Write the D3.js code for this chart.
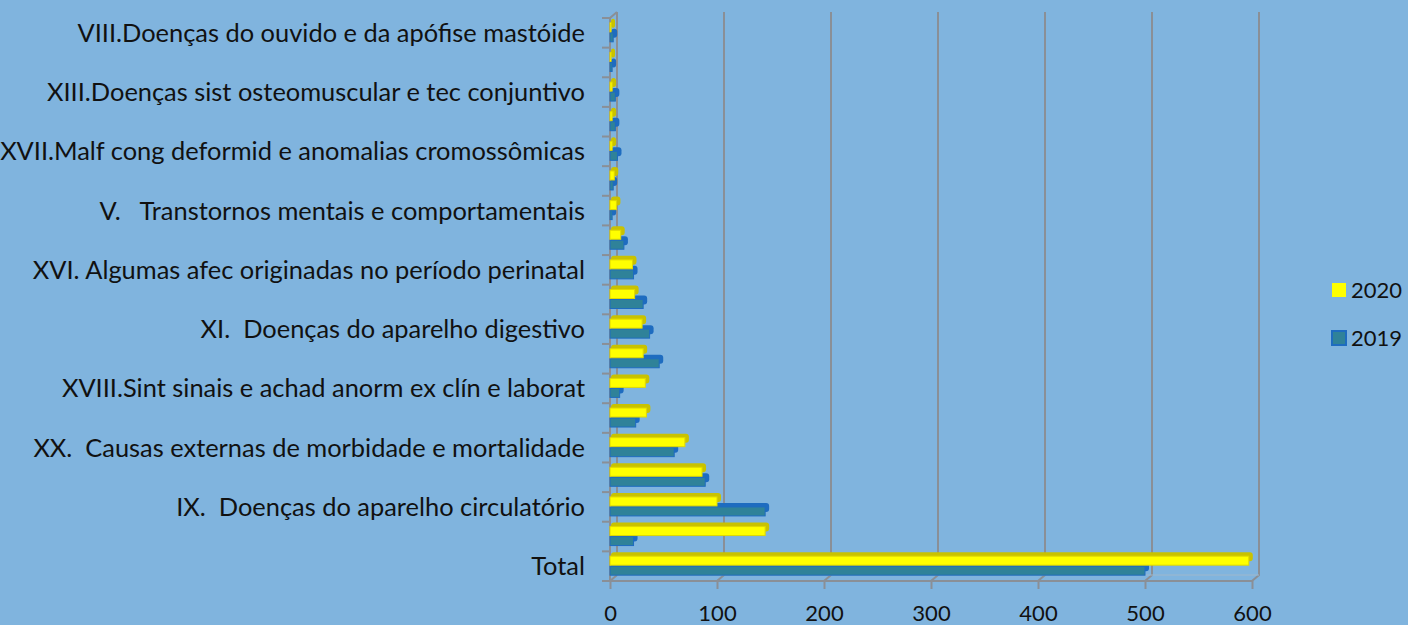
<!DOCTYPE html>
<html>
<head>
<meta charset="utf-8">
<script src="https://cdn.jsdelivr.net/npm/d3@7"></script>
<style>
  html, body { margin: 0; padding: 0; background: #80b4de; }
  text { font-family: Lato, "Open Sans", sans-serif; fill: #111; white-space: pre; }
</style>
</head>
<body>
<div id="chart"></div>
<script>
// categories bottom -> top (empty labels are not shown on the axis)
const categories = [
  "Total",
  "I. Algumas doenças infecciosas e parasitárias",
  "IX.  Doenças do aparelho circulatório",
  "II. Neoplasias (tumores)",
  "XX.  Causas externas de morbidade e mortalidade",
  "X. Doenças do aparelho respiratório",
  "XVIII.Sint sinais e achad anorm ex clín e laborat",
  "IV. Doenças endócrinas nutricionais e metabólicas",
  "XI.  Doenças do aparelho digestivo",
  "XIV. Doenças do aparelho geniturinário",
  "XVI. Algumas afec originadas no período perinatal",
  "VI. Doenças do sistema nervoso",
  "V.   Transtornos mentais e comportamentais",
  "III. Doenças sangue órgãos hemat e transt imunitár",
  "XVII.Malf cong deformid e anomalias cromossômicas",
  "XII. Doenças da pele e do tecido subcutâneo",
  "XIII.Doenças sist osteomuscular e tec conjuntivo",
  "XV. Gravidez parto e puerpério",
  "VIII.Doenças do ouvido e da apófise mastóide"
];
const values2020 = [597, 145, 100, 86, 70, 34, 33, 31, 30, 23, 21, 10, 6, 4, 2, 2, 2, 1, 1];
const values2019 = [500, 22, 145, 89, 60, 24, 9, 46, 37, 31, 22, 13, 2, 3, 7, 5, 5, 2, 3];
const xTicks = [0, 100, 200, 300, 400, 500, 600];
const seriesNames = ["2020", "2019"];

const W = 1408, H = 625;
const depth = {dx: 7, dy: -6};
const plot = {left: 610, right: 1252, top: 18, bottom: 581};

const svg = d3.select("#chart").append("svg")
  .attr("width", W).attr("height", H);

const x = d3.scaleLinear().domain([0, 600]).range([plot.left, plot.right]);
const y = d3.scaleBand().domain(categories).range([plot.bottom, plot.top]);

const gridColor = "#8a8f96";

// back wall gridlines + floor connection
const grid = svg.append("g");
xTicks.forEach(t => {
  const bx = x(t) + depth.dx;
  grid.append("path")
    .attr("d", `M${bx},${plot.top + depth.dy}V${plot.bottom + depth.dy}L${x(t)},${plot.bottom}`)
    .attr("fill", "none").attr("stroke", gridColor).attr("stroke-width", 2);
});
// back floor line (faint)
grid.append("line")
  .attr("x1", x(0) + depth.dx).attr("x2", x(600) + depth.dx)
  .attr("y1", plot.bottom + depth.dy).attr("y2", plot.bottom + depth.dy)
  .attr("stroke", "#9fb8cc").attr("stroke-width", 1);
// front floor line
grid.append("line")
  .attr("x1", x(0)).attr("x2", x(600))
  .attr("y1", plot.bottom).attr("y2", plot.bottom)
  .attr("stroke", gridColor).attr("stroke-width", 2);
// left wall front edge
grid.append("path")
  .attr("d", `M${x(0)},${plot.bottom}V${plot.top}L${x(0) + depth.dx},${plot.top + depth.dy}`)
  .attr("fill", "none").attr("stroke", gridColor).attr("stroke-width", 2);

// category boundary ticks
d3.range(categories.length + 1).forEach(i => {
  const yy = plot.bottom - i * y.step();
  grid.append("line")
    .attr("x1", x(0) - 8).attr("x2", x(0))
    .attr("y1", yy).attr("y2", yy)
    .attr("stroke", gridColor).attr("stroke-width", 2);
});

// bars
const barH = 9, d = 4;
const series = [
  {name: "2019", values: values2019, off: 0, front: "#2f8299", side: "#1e6cc0", stroke: "#1e6cc0"},
  {name: "2020", values: values2020, off: -barH - 1, front: "#ffff00", side: "#c9c200", stroke: "#e0d800"}
];
series.forEach(s => {
  const g = svg.append("g");
  categories.forEach((c, i) => {
    const cy = y(c) + y.bandwidth() / 2;
    const y0 = cy + s.off;
    const x0 = x(0), x1 = x(s.values[i]);
    // extruded back shape (top + right faces)
    g.append("rect")
      .attr("x", x0 + 1).attr("y", y0 - d)
      .attr("width", Math.max(x1 - x0 + d - 1, 2)).attr("height", barH)
      .attr("rx", 3)
      .attr("fill", s.side);
    g.append("rect")
      .attr("x", x0).attr("y", y0)
      .attr("width", Math.max(x1 - x0, 1)).attr("height", barH)
      .attr("fill", s.front)
      .attr("stroke", s.stroke).attr("stroke-width", 1);
  });
});

// y axis labels (every other category)
const yAxis = d3.axisLeft(y)
  .tickValues(categories.filter((c, i) => i % 2 === 0))
  .tickSize(0).tickPadding(25);
const yg = svg.append("g").attr("transform", `translate(${plot.left},0)`).call(yAxis);
yg.select(".domain").remove();
yg.selectAll("text").style("font-size", "23px").attr("fill", "#111").attr("dy", "0.35em");

// fit label size to the longest label
let maxW = 0;
yg.selectAll("text").each(function () { maxW = Math.max(maxW, this.getComputedTextLength()); });
const fs = 23 * 585 / maxW;
yg.selectAll("text").style("font-size", fs + "px");

// x axis
const xAxis = d3.axisBottom(x).tickValues(xTicks).tickSize(8).tickPadding(16);
const xg = svg.append("g").attr("transform", `translate(0,${plot.bottom})`).call(xAxis);
xg.select(".domain").remove();
xg.selectAll("line").attr("stroke", gridColor).attr("stroke-width", 2);
xg.selectAll("text").style("font-size", "22px").attr("fill", "#111");

// legend
const legend = svg.append("g");
const legendItems = [
  {name: seriesNames[0], fill: "#ffff00", stroke: "none", y: 290},
  {name: seriesNames[1], fill: "#2f8299", stroke: "#1e6cc0", y: 338}
];
legendItems.forEach(l => {
  legend.append("rect")
    .attr("x", 1332).attr("y", l.y - 7)
    .attr("width", 14).attr("height", 14)
    .attr("fill", l.fill).attr("stroke", l.stroke).attr("stroke-width", 2);
  legend.append("text")
    .attr("x", 1351).attr("y", l.y).attr("dy", "0.35em")
    .style("font-size", "22px")
    .text(l.name);
});
</script>
</body>
</html>
